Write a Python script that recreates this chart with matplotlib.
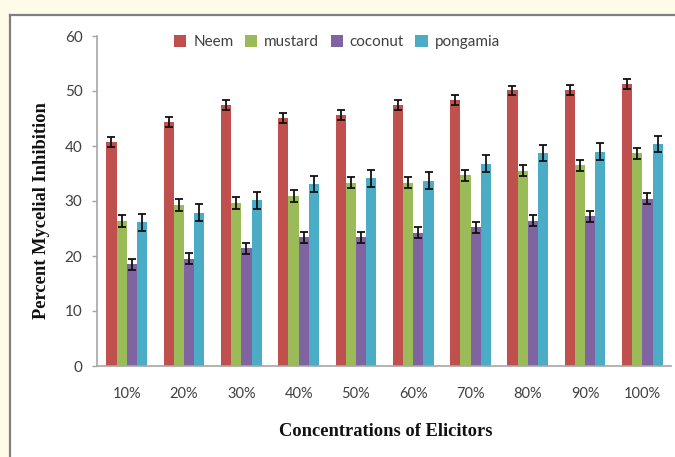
import matplotlib
matplotlib.use("Agg")
import matplotlib.pyplot as plt
from matplotlib.patches import Rectangle
from matplotlib.lines import Line2D
import numpy as np

# Values
CONCENTRATIONS = ["10%", "20%", "30%", "40%", "50%", "60%", "70%", "80%", "90%", "100%"]
SERIES = ["Neem", "mustard", "coconut", "pongamia"]

neem = [40.7, 44.4, 47.4, 45.1, 45.7, 47.4, 48.4, 50.1, 50.2, 51.3]
mustard = [26.3, 29.3, 29.6, 30.9, 33.3, 33.3, 34.7, 35.5, 36.5, 38.7]
coconut = [18.5, 19.5, 21.4, 23.4, 23.4, 24.2, 25.2, 26.4, 27.2, 30.4]
pongamia = [26.1, 27.9, 30.1, 33.1, 34.1, 33.7, 36.8, 38.7, 39.0, 40.4]

neem_err = [0.9, 0.9, 0.9, 0.9, 0.9, 0.9, 0.9, 0.9, 0.9, 0.9]
mustard_err = [1.1, 1.1, 1.1, 1.1, 1.0, 1.0, 1.0, 1.0, 1.0, 1.0]
coconut_err = [1.0, 1.0, 1.0, 1.0, 1.0, 1.0, 1.0, 1.0, 1.0, 1.0]
pongamia_err = [1.5, 1.5, 1.5, 1.5, 1.5, 1.5, 1.5, 1.5, 1.5, 1.5]

COLORS = {
    "Neem": "#c0504d",
    "mustard": "#9bbb59",
    "coconut": "#8064a2",
    "pongamia": "#4bacc6",
}

values = {"Neem": neem, "mustard": mustard, "coconut": coconut, "pongamia": pongamia}
errors = {"Neem": neem_err, "mustard": mustard_err, "coconut": coconut_err,
          "pongamia": pongamia_err}

W, H = 675, 457
fig = plt.figure(figsize=(W / 100, H / 100), dpi=100)
fig.patch.set_facecolor("#fffbe9")

# white panel with grey frame, running off the right/bottom edge
fig.patches.append(Rectangle((10 / W, -0.1), 1.2, 1 - 16 / H + 0.1,
                             transform=fig.transFigure, facecolor="white",
                             edgecolor="none", zorder=-2))
fig.lines.append(Line2D([10 / W, 10 / W], [0, 1 - 15 / H], transform=fig.transFigure,
                        color="#7f7f7f", lw=1.6, zorder=-1))
fig.lines.append(Line2D([10 / W, 1], [1 - 15 / H, 1 - 15 / H], transform=fig.transFigure,
                        color="#7f7f7f", lw=1.6, zorder=-1))

ax = fig.add_axes([97 / W, 1 - 366 / H, (671 - 97) / W, (366 - 36) / H])
ax.set_facecolor("none")
ax.set_zorder(1)

x = np.arange(len(CONCENTRATIONS))
bar_w = 0.178
for i, s in enumerate(SERIES):
    off = (i - 1.5) * bar_w
    ax.bar(x + off, values[s], bar_w, color=COLORS[s], label=s, zorder=2)
    ax.errorbar(x + off, values[s], yerr=errors[s], fmt="none", ecolor="#111111",
                elinewidth=1.3, capsize=2.6, capthick=1.3, zorder=3)

ax.set_xlim(-0.52, 9.5)
ax.set_ylim(0, 60)
ax.set_yticks(range(0, 61, 10))
ax.set_xticks(x)
ax.set_xticklabels(CONCENTRATIONS)

for side in ("top", "right"):
    ax.spines[side].set_visible(False)
for side in ("left", "bottom"):
    ax.spines[side].set_color("#a6a6a6")
    ax.spines[side].set_linewidth(1.2)

ax.tick_params(axis="x", length=0, pad=15, labelsize=10.5, labelcolor="#404040")
ax.tick_params(axis="y", length=3.5, width=1, color="#a6a6a6", pad=7,
               labelsize=11, labelcolor="#404040")
for lab in ax.get_xticklabels() + ax.get_yticklabels():
    lab.set_family(["Lato", "DejaVu Sans"])

label_font = dict(family=["Liberation Serif", "DejaVu Serif"], fontweight="bold",
                  fontsize=13.3, color="#111111")
fig.text(42 / W, 1 - 211 / H, "Percent Mycelial Inhibition", rotation=90,
         ha="center", va="center", **label_font)
fig.text(386 / W, 1 - 432 / H, "Concentrations of Elicitors", ha="center",
         va="center", **label_font)

leg = fig.legend(loc="center left", bbox_to_anchor=(162 / W, 1 - 42 / H), ncol=4,
                 frameon=False, handlelength=0.8, handleheight=0.8,
                 handletextpad=0.45, columnspacing=0.75, borderpad=0.3,
                 prop=dict(family=["Lato", "DejaVu Sans"], size=11))
for t in leg.get_texts():
    t.set_color("#404040")

fig.savefig("out.png", dpi=100, facecolor=fig.get_facecolor())
